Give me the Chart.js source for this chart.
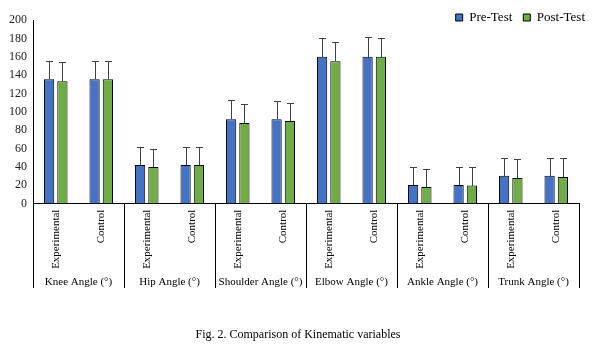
<!DOCTYPE html>
<html>
<head>
<meta charset="utf-8">
<script src="https://cdn.jsdelivr.net/npm/chart.js@4/dist/chart.umd.min.js"></script>
<style>
html,body{margin:0;padding:0;background:#fff;}
#wrap{width:598px;height:358px;position:relative;}
</style>
</head>
<body>
<div id="wrap"><canvas id="c" width="598" height="358"></canvas></div>
<script>
const groups = ['Knee Angle (°)', 'Hip Angle (°)', 'Shoulder Angle (°)', 'Elbow Angle (°)', 'Ankle Angle (°)', 'Trunk Angle (°)'];
const subgroups = ['Experimental', 'Control'];
const categories = ['Experimental','Control','Experimental','Control','Experimental','Control','Experimental','Control','Experimental','Control','Experimental','Control'];
const preTest  = [135.5, 135.5, 42, 42, 92, 92, 160, 160, 20.3, 20.3, 30.4, 30.4];
const postTest = [133.3, 135.5, 40, 42, 87.7, 89.9, 155, 160, 18.1, 19.6, 27.9, 29];
const preErr   = [19.5, 19.5, 19.6, 19.6, 21, 19.6, 20, 21, 19.9, 19.9, 19.6, 19.6];
const postErr  = [21, 19.5, 19.4, 19.6, 20.6, 19.5, 20.7, 20, 19.6, 20.6, 20.6, 21];
const yTicks = [0, 20, 40, 60, 80, 100, 120, 140, 160, 180, 200];
const caption = 'Fig. 2. Comparison of Kinematic variables';

const SERIF = '"Liberation Serif", "Times New Roman", serif';

const errorBars = {
  id: 'errorBars',
  afterDatasetsDraw(chart) {
    const ctx = chart.ctx;
    const y = chart.scales.y;
    const errs = [preErr, postErr];
    ctx.save();
    ctx.strokeStyle = '#404040';
    ctx.lineWidth = 1;
    chart.data.datasets.forEach((ds, di) => {
      const meta = chart.getDatasetMeta(di);
      meta.data.forEach((bar, i) => {
        const x = Math.round(bar.x) + 0.5;
        const yTop = Math.round(y.getPixelForValue(ds.data[i] + errs[di][i])) + 0.5;
        const yBase = Math.round(bar.y);
        ctx.beginPath();
        ctx.moveTo(x, yBase);
        ctx.lineTo(x, yTop);
        ctx.moveTo(x - 3.5, yTop);
        ctx.lineTo(x + 3.5, yTop);
        ctx.stroke();
      });
    });
    ctx.restore();
  }
};

// let the legend text extend below its (short) layout box without being clipped
const legendUnclip = {
  id: 'legendUnclip',
  afterLayout(chart) {
    if (chart.legend) chart.legend.bottom = chart.legend.top + 30;
  }
};

const groupAxis = {
  id: 'groupAxis',
  afterDraw(chart) {
    const ctx = chart.ctx;
    const xs = chart.scales.x;
    const area = chart.chartArea;
    const bottom = 288;
    const bounds = [area.left];
    for (let g = 0; g < groups.length - 1; g++) {
      const i = g * subgroups.length + subgroups.length - 1;
      bounds.push((xs.getPixelForValue(i) + xs.getPixelForValue(i + 1)) / 2);
    }
    bounds.push(area.right);
    ctx.save();
    ctx.strokeStyle = '#000';
    ctx.lineWidth = 1;
    bounds.forEach(b => {
      const bx = Math.round(b) + 0.5;
      ctx.beginPath();
      ctx.moveTo(bx, area.bottom);
      ctx.lineTo(bx, bottom);
      ctx.stroke();
    });
    ctx.fillStyle = '#000';
    ctx.font = '11px ' + SERIF;
    ctx.textAlign = 'center';
    ctx.textBaseline = 'middle';
    groups.forEach((g, k) => {
      ctx.fillText(g, (bounds[k] + bounds[k + 1]) / 2, 282);
    });
    ctx.restore();
  }
};

new Chart(document.getElementById('c'), {
  type: 'bar',
  data: {
    labels: categories,
    datasets: [
      { label: 'Pre-Test', data: preTest, backgroundColor: '#4472C4', borderColor: '#000', borderWidth: 1 },
      { label: 'Post-Test', data: postTest, backgroundColor: '#70AD47', borderColor: '#000', borderWidth: 1 }
    ]
  },
  options: {
    responsive: false,
    animation: false,
    devicePixelRatio: 1,
    datasets: { bar: { categoryPercentage: 0.585, barPercentage: 0.77 } },
    layout: { padding: { left: 0, right: 2, top: 0, bottom: 0 } },
    plugins: {
      legend: {
        position: 'top',
        align: 'end',
        maxHeight: 20,
        labels: {
          boxWidth: 7, boxHeight: 7, padding: 11,
          color: '#000',
          font: { family: SERIF, size: 13 }
        }
      },
      title: {
        display: true,
        position: 'bottom',
        text: caption,
        color: '#000',
        font: { family: SERIF, size: 12, weight: 'normal' },
        padding: { top: 40, bottom: 16 }
      },
      tooltip: { enabled: false }
    },
    scales: {
      x: {
        grid: { display: false, drawTicks: false },
        border: { display: true, color: '#000', width: 1 },
        ticks: {
          minRotation: 90, maxRotation: 90, autoSkip: false, padding: 6,
          color: '#000', font: { family: SERIF, size: 11 }
        },
        afterFit(s) { s.height = 84; }
      },
      y: {
        min: 0, max: 200,
        afterBuildTicks(s) { s.ticks = yTicks.map(v => ({ value: v })); },
        grid: { display: false, drawTicks: false },
        border: { display: true, color: '#000', width: 1 },
        ticks: { padding: 6, color: '#222', font: { family: SERIF, size: 12 } },
        afterFit(s) { s.width = 33; }
      },
      yR: {
        position: 'right',
        display: true,
        grid: { display: false, drawTicks: false },
        border: { display: false },
        ticks: { display: false },
        afterFit(s) { s.width = 17; }
      }
    }
  },
  plugins: [errorBars, groupAxis, legendUnclip]
});
</script>
</body>
</html>
